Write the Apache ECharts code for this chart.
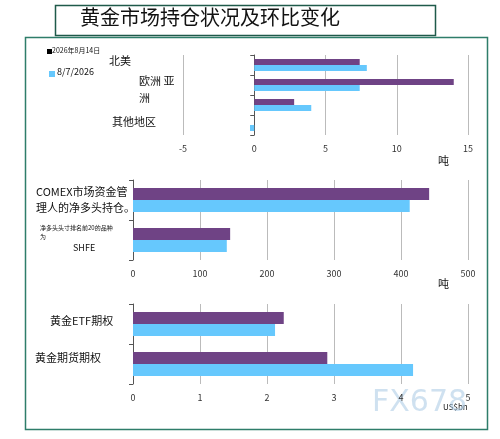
<!DOCTYPE html>
<html><head><meta charset="utf-8">
<script src="https://cdn.jsdelivr.net/npm/echarts@6/dist/echarts.min.js"></script>
<style>html,body{margin:0;padding:0;background:#fff}#c{width:500px;height:439px}</style>
</head><body><div id="c"></div>
<script>
const legendNames = ['2026年8月14日', '8/7/2026'];
const cats1 = ['北美', '欧洲', '亚洲', '其他地区'];
const cur1 = [7.4, 14.0, 2.8, 0];
const prev1 = [7.9, 7.4, 4.0, -0.3];
const cats2 = ['COMEX', 'SHFE'];
const cur2 = [442, 145];
const prev2 = [413, 140];
const cats3 = ['黄金ETF期权', '黄金期货期权'];
const cur3 = [2.25, 2.9];
const prev3 = [2.12, 4.18];
const purple = '#6f4385', blue = '#66c8fd';
const F = 'Noto Sans CJK SC';
const grids = [
  {left:183, width:285, top:55, height:80},
  {left:133, width:335, top:180, height:80},
  {left:133, width:335, top:304, height:80}
];
function xa(i,min,max,interval){return {gridIndex:i,type:'value',min,max,interval,
  axisLine:{show:false},axisTick:{show:false},
  splitLine:{lineStyle:{color:'#bbb',width:1}},
  axisLabel:{fontSize:9,color:'#333',fontFamily:F,margin:9}};}
function ya(i,cats){return {gridIndex:i,type:'category',data:cats,inverse:true,
  axisLine:{show:true,onZero:true,lineStyle:{color:'#555'}},axisTick:{show:true,length:4,lineStyle:{color:'#555'}},
  axisLabel:{show:false}};}
function bars(i,cur,prev,w){return [
  {type:'bar',name:legendNames[0],xAxisIndex:i,yAxisIndex:i,data:cur,barWidth:w,itemStyle:{color:purple},barGap:'0%'},
  {type:'bar',name:legendNames[1],xAxisIndex:i,yAxisIndex:i,data:prev,barWidth:w,itemStyle:{color:blue},barGap:'0%'}
];}
const txt=(x,y,t,s,extra)=>({type:'text',left:x,top:y,style:Object.assign({text:t,fontSize:s||11,fontFamily:F,fill:'#111'},extra||{})});
const chart = echarts.init(document.getElementById('c'));
chart.setOption({
  animation:false,
  grid:grids,
  xAxis:[xa(0,-5,15,5),xa(1,0,500,100),xa(2,0,5,1)],
  yAxis:[ya(0,cats1),ya(1,cats2),ya(2,cats3)],
  series:[...bars(0,cur1,prev1,6),...bars(1,cur2,prev2,12),...bars(2,cur3,prev3,12)],
  graphic:[
    {type:'rect',shape:{x:25.5,y:37.5,width:462,height:392},style:{fill:'none',stroke:'#2e7d6a',lineWidth:1.5}},
    {type:'rect',shape:{x:55.5,y:5.5,width:380,height:30},style:{fill:'#fff',stroke:'#1f5a4a',lineWidth:1.5}},
    txt(80,7,'黄金市场持仓状况及环比变化',20,{fontWeight:'normal'}),
    {type:'rect',shape:{x:47,y:49,width:5,height:5},style:{fill:'#000'}},
    txt(52,47,'2026年8月14日',7),
    {type:'rect',shape:{x:49,y:71,width:6,height:6},style:{fill:blue}},
    txt(57,67,'8/7/2026',9),
    txt(109,55,'北美',11),
    txt(139,75,'欧洲 亚',11),
    txt(139,92,'洲',11),
    txt(112,116,'其他地区',11),
    txt(438,155,'吨',11),
    txt(36,186,'COMEX市场资金管',11),
    txt(36,202,'理人的净多头持仓。',11),
    txt(40,225,'净多头头寸排名前20的品种',6),
    txt(40,234,'为',6),
    txt(73,243,'SHFE',9),
    txt(438,278,'吨',11),
    txt(50,315,'黄金ETF期权',11),
    txt(35,352,'黄金期货期权',11),
    txt(443,403,'US$bn',8),
    txt(372,388,'FX678',30,{fill:'rgba(175,205,230,0.6)',fontFamily:'DejaVu Sans'})
  ]
});
</script></body></html>
